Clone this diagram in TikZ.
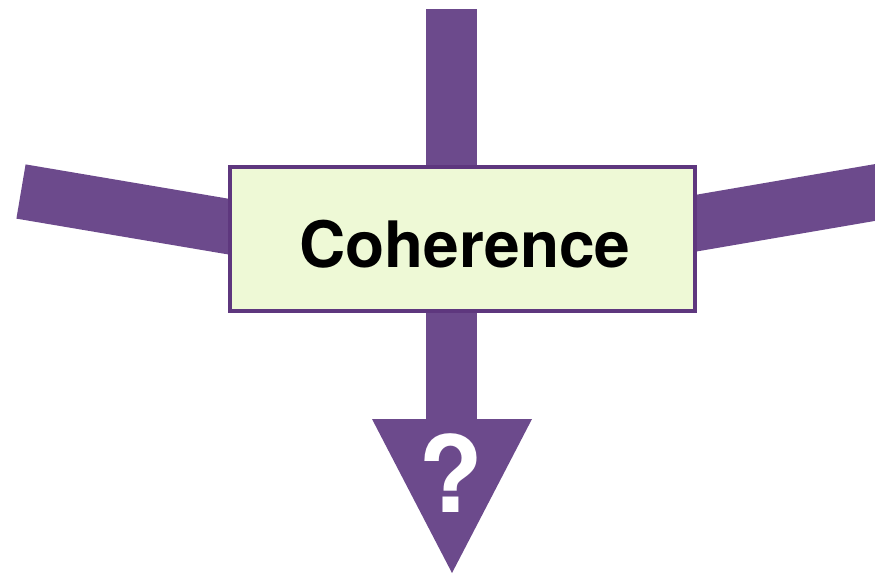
\documentclass[tikz,border=0pt]{standalone}
\usepackage{fontspec}
\setmainfont{TeX Gyre Heros}
\usetikzlibrary{backgrounds,calc}
\definecolor{barpurple}{HTML}{6C4A8C}
\definecolor{edgepurple}{HTML}{5E377E}
\definecolor{boxfill}{HTML}{EEF9D6}
\tikzset{
  bar/.style={draw=barpurple, line cap=butt},
  cohbox/.style={draw=edgepurple, line width=4.5pt, fill=boxfill, minimum width=465pt, minimum height=144pt, inner sep=0pt},
  bigtext/.style={font=\bfseries\fontsize{64}{70}\selectfont, text=black, inner sep=0pt},
  qmark/.style={font=\bfseries\fontsize{106}{110}\selectfont, text=white, inner sep=0pt}
}
\begin{document}
\begin{tikzpicture}[x=1pt,y=-1pt]
\useasboundingbox (0,0) rectangle (875,574);
\clip (0,0) rectangle (875,574);
\node[cohbox] (box) at (462.5,239) {};
\node[bigtext, anchor=base] (lbl) at (465,267) {Coherence};
\coordinate (topend) at (451.5,9);
\coordinate (leftend) at (21,191.5);
\coordinate (leftin) at (300,238.7);
\coordinate (rightend) at (900,188.2);
\coordinate (rightin) at (620,236.2);
\coordinate (shaftend) at (451.5,420);
\coordinate (tipL) at (372,419);
\coordinate (tipR) at (532,419);
\coordinate (tip) at (452,573);
\begin{scope}[on background layer]
  \draw[bar, line width=51pt] (topend) -- (topend |- box.center);
  \draw[bar, line width=55pt] (leftend) -- (leftin);
  \draw[bar, line width=56pt] (rightend) -- (rightin);
  \draw[bar, line width=51pt] (shaftend |- box.center) -- (shaftend);
  \fill[barpurple] (tipL) -- (tipR) -- (tip) -- cycle;
\end{scope}
\node[qmark, anchor=base] (q) at (451,512) {?};
\end{tikzpicture}
\end{document}
